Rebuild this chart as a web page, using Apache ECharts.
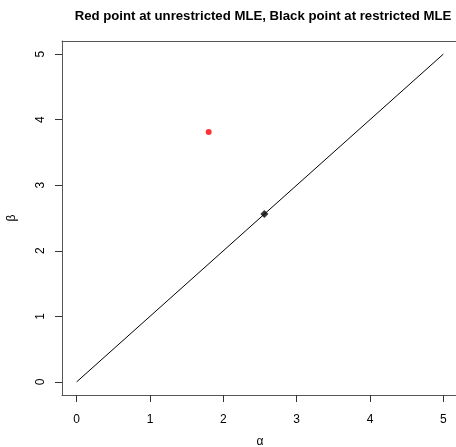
<!DOCTYPE html>
<html><head><meta charset="utf-8">
<script src="https://cdn.jsdelivr.net/npm/echarts@6/dist/echarts.min.js"></script>
<style>html,body{margin:0;padding:0;background:#fff}#c{width:456px;height:447px}</style>
</head><body><div id="c"></div>
<script>
const title = 'Red point at unrestricted MLE, Black point at restricted MLE';
const xTicks = [0, 1, 2, 3, 4, 5];
const yTicks = [0, 1, 2, 3, 4, 5];
const lineX = [0, 5];
const lineY = [0, 5];
const unrestrictedMLE = [1.8, 3.81];
const restrictedMLE = [2.56, 2.56];

const font = 'Liberation Sans, Arial, Helvetica, sans-serif';
const chart = echarts.init(document.getElementById('c'), null, {renderer: 'canvas'});
chart.setOption({
  animation: false,
  backgroundColor: '#fff',
  title: {
    text: title, left: 258, top: 5, textAlign: 'center',
    textStyle: {fontFamily: font, fontSize: 13.2, fontWeight: 'bold', color: '#000'}
  },
  grid: {left: 62, top: 41, width: 396, height: 354, show: false,
         containLabel: false, outerBoundsMode: 'none'},
  xAxis: [{
    type: 'value', min: -0.2, max: 5.2,
    name: 'α', nameLocation: 'middle', nameGap: 41,
    nameTextStyle: {fontFamily: font, fontSize: 12, color: '#000'},
    axisLine: {show: true, onZero: false, lineStyle: {color: '#555', width: 1}},
    axisTick: {show: true, length: 7, customValues: xTicks, lineStyle: {color: '#333'}},
    axisLabel: {customValues: xTicks, margin: 19, fontFamily: font, fontSize: 12, color: '#000'},
    splitLine: {show: false}
  }, {
    type: 'value', min: -0.2, max: 5.2, position: 'top',
    axisLine: {show: true, onZero: false, lineStyle: {color: '#555', width: 1}},
    axisTick: {show: false}, axisLabel: {show: false}, splitLine: {show: false}
  }],
  yAxis: {
    type: 'value', min: -0.2, max: 5.2,
    name: 'β', nameLocation: 'middle', nameGap: 44, nameRotate: 90,
    nameTextStyle: {fontFamily: font, fontSize: 12, color: '#000'},
    axisLine: {show: true, onZero: false, lineStyle: {color: '#555', width: 1}},
    axisTick: {show: true, length: 7, customValues: yTicks, lineStyle: {color: '#333'}},
    axisLabel: {customValues: yTicks, rotate: 90, margin: 15, fontFamily: font, fontSize: 12, color: '#000'},
    splitLine: {show: false}
  },
  series: [
    {type: 'line', data: lineX.map((x, i) => [x, lineY[i]]), symbol: 'none', lineStyle: {color: '#000', width: 1}, z: 2},
    {type: 'scatter', data: [unrestrictedMLE], symbol: 'circle', symbolSize: 6, itemStyle: {color: '#ff0000'}, z: 3},
    {type: 'scatter', data: [restrictedMLE], symbol: 'diamond', symbolSize: 8, itemStyle: {color: '#000'}, z: 3}
  ]
});
</script></body></html>
